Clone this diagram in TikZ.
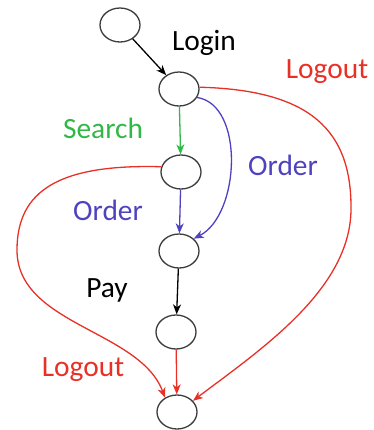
\documentclass[tikz,border=0pt]{standalone}
\usepackage{fontspec}
\setmainfont{Carlito}
\usepackage{tikz}
\usetikzlibrary{arrows.meta,shapes.geometric}
\tikzset{>={Stealth[length=5pt,width=4pt,inset=1.5pt]}}
\definecolor{logoutRed}{RGB}{232,48,38}
\definecolor{searchGreen}{RGB}{48,184,72}
\definecolor{orderBlue}{RGB}{78,66,192}
\definecolor{rimGray}{RGB}{60,60,60}
\tikzstyle{state} = [ellipse,draw=rimGray,line width=0.65pt,minimum width=20pt,minimum height=17pt,inner sep=0pt]
\tikzstyle{act}   = [anchor=base,font=\fontsize{14.7}{16}\selectfont]

\begin{document}
\begin{tikzpicture}[->,x=0.5pt,y=-0.5pt,line width=0.65pt]
	\useasboundingbox (0,0) rectangle (374,430);

	\node[state] (s0) at (120,25)  {};
	\node[state] (s1) at (179,89)  {};
	\node[state] (s2) at (181,172) {};
	\node[state] (s3) at (179,251) {};
	\node[state] (s4) at (176,332) {};
	\node[state] (s5) at (177,412) {};

	\node[act]                  at (204,50)  {Login};
	\node[act,text=logoutRed]   at (327,78)  {Logout};
	\node[act,text=searchGreen] at (103,138) {Search};
	\node[act,text=orderBlue]   at (283,175) {Order};
	\node[act,text=orderBlue]   at (108,220) {Order};
	\node[act]                  at (107,297) {Pay};
	\node[act,text=logoutRed]   at (83,376)  {Logout};

	\path (s0) edge (s1);
	\path (s1) edge[searchGreen] (s2);
	\path (s2) edge[orderBlue] (s3);
	\path (s3) edge (s4);
	\path (s4) edge[logoutRed] (s5);

	% order straight from the first page
	\draw[orderBlue] (s1.-25) .. controls (245,105) and (240,215) .. (s3.40);
	% logout branches
	\draw[logoutRed] (s2.165) .. controls (60,164) and (17,190) .. (17,250)
		.. controls (17,325) and (140,330) .. (s5.130);
	\draw[logoutRed] (s1.5) .. controls (310,90) and (352,130) .. (351,210)
		.. controls (350,290) and (260,350) .. (s5.35);
\end{tikzpicture}
\end{document}
